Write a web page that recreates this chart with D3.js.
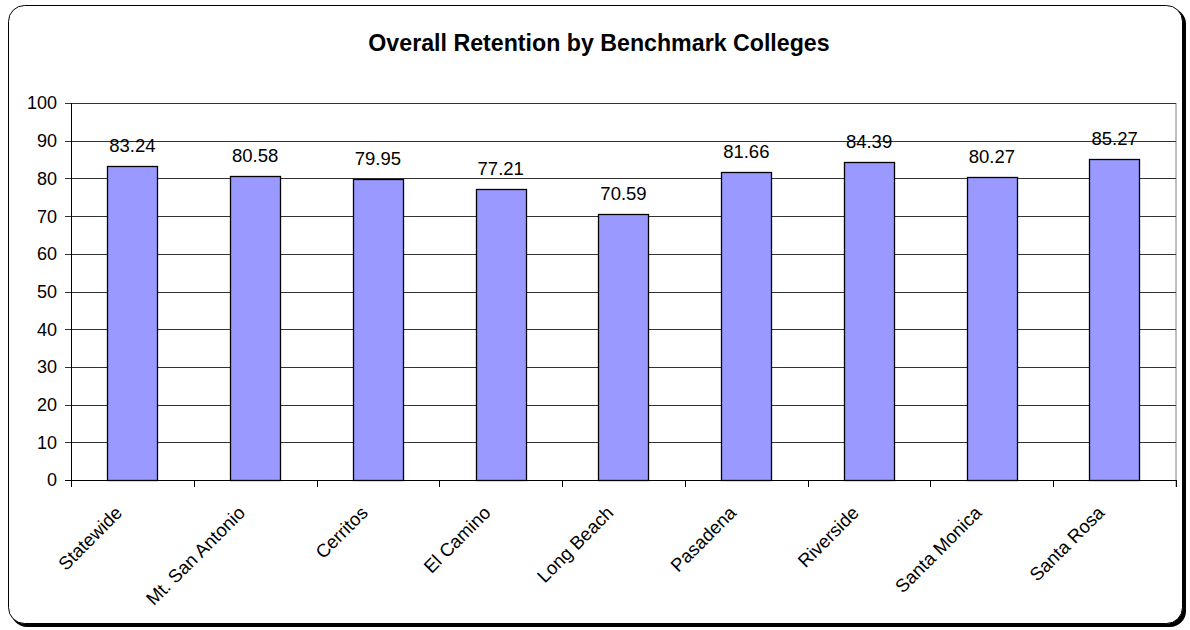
<!DOCTYPE html>
<html>
<head>
<meta charset="utf-8">
<script src="https://cdn.jsdelivr.net/npm/d3@7"></script>
<style>
  body { margin: 0; background: #fff; }
  svg text { font-family: "Liberation Sans", Arial, sans-serif; fill: #000; }
</style>
</head>
<body>
<svg id="chart" width="1190" height="630"></svg>
<script>
// data
const colleges = ["Statewide", "Mt. San Antonio", "Cerritos", "El Camino", "Long Beach",
  "Pasadena", "Riverside", "Santa Monica", "Santa Rosa"];
const retention = [83.24, 80.58, 79.95, 77.21, 70.59, 81.66, 84.39, 80.27, 85.27];
const yTicks = [0, 10, 20, 30, 40, 50, 60, 70, 80, 90, 100];

const svg = d3.select("#chart");

// outer frame with shadow
svg.append("rect")
    .attr("x", 11).attr("y", 8)
    .attr("width", 1175).attr("height", 619)
    .attr("rx", 16)
    .attr("fill", "#000");
svg.append("rect")
    .attr("x", 8.5).attr("y", 5.5)
    .attr("width", 1174).attr("height", 618)
    .attr("rx", 16)
    .attr("fill", "#fff")
    .attr("stroke", "#000")
    .attr("stroke-width", 1);

svg.append("text")
    .attr("x", 599).attr("y", 51)
    .attr("text-anchor", "middle")
    .attr("font-size", 23.2)
    .attr("font-weight", "bold")
    .text("Overall Retention by Benchmark Colleges");

const plotLeft = 71, plotRight = 1176, plotTop = 103, plotBottom = 480;

const x = d3.scaleBand().domain(colleges).range([plotLeft, plotRight]);
const y = d3.scaleLinear().domain([0, 100]).range([plotBottom, plotTop]);

// plot border (gray, right side)
svg.append("line")
    .attr("x1", plotRight).attr("x2", plotRight)
    .attr("y1", plotTop).attr("y2", plotBottom + 7)
    .attr("stroke", "#808080");

// gridlines
svg.append("g")
  .selectAll("line")
  .data(yTicks)
  .join("line")
    .attr("x1", plotLeft - 6).attr("x2", plotRight)
    .attr("y1", d => Math.round(y(d)) + 0.5)
    .attr("y2", d => Math.round(y(d)) + 0.5)
    .attr("stroke", d => d === 0 ? "#000" : "#333");

// y axis line
svg.append("line")
    .attr("x1", plotLeft + 0.5).attr("x2", plotLeft + 0.5)
    .attr("y1", plotTop).attr("y2", plotBottom)
    .attr("stroke", "#000");

// y tick labels
svg.append("g")
  .selectAll("text")
  .data(yTicks)
  .join("text")
    .attr("x", plotLeft - 14)
    .attr("y", d => y(d))
    .attr("dy", "0.36em")
    .attr("text-anchor", "end")
    .attr("font-size", 18)
    .text(d => d);

// x category boundary ticks
const bounds = colleges.map(c => x(c)).concat([plotRight]);
svg.append("g")
  .selectAll("line")
  .data(bounds)
  .join("line")
    .attr("x1", d => Math.round(d) + 0.5).attr("x2", d => Math.round(d) + 0.5)
    .attr("y1", plotBottom).attr("y2", plotBottom + 7)
    .attr("stroke", "#000");

// bars
const barW = x.bandwidth() * 0.41;
svg.append("g")
  .selectAll("rect")
  .data(retention)
  .join("rect")
    .attr("x", (d, i) => Math.round(x(colleges[i]) + x.bandwidth() / 2 - barW / 2) + 0.5)
    .attr("y", d => Math.round(y(d)) + 0.5)
    .attr("width", Math.round(barW))
    .attr("height", d => Math.round(plotBottom - y(d)))
    .attr("fill", "#9999ff")
    .attr("stroke", "#000")
    .attr("stroke-width", 1.3);

// value labels
svg.append("g")
  .selectAll("text")
  .data(retention)
  .join("text")
    .attr("x", (d, i) => x(colleges[i]) + x.bandwidth() / 2)
    .attr("y", d => y(d) - 14)
    .attr("text-anchor", "middle")
    .attr("font-size", 18.5)
    .text(d => d.toFixed(2));

// x labels, rotated
svg.append("g")
  .selectAll("text")
  .data(colleges)
  .join("text")
    .attr("text-anchor", "end")
    .attr("font-size", 18.5)
    .attr("transform", d => `translate(${x(d) + x.bandwidth() / 2 - 9},${plotBottom + 34}) rotate(-45)`)
    .text(d => d);
</script>
</body>
</html>
